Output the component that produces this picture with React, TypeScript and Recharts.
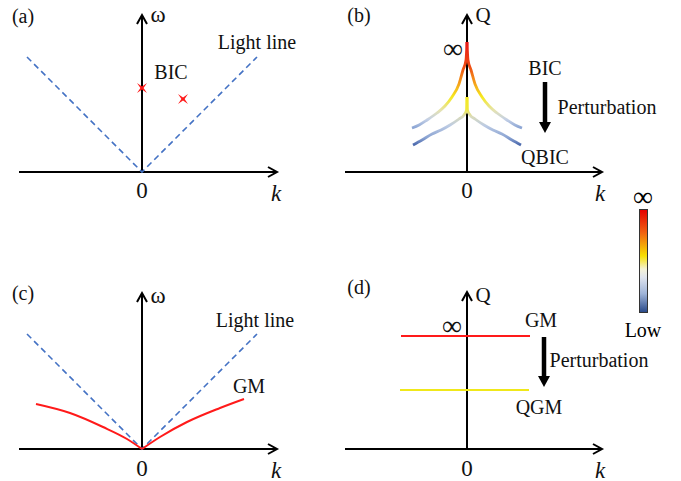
import { ComposedChart, Line, XAxis, YAxis, ReferenceLine, ReferenceDot } from "recharts";

// light line (a), (c)
const lightK = [-1.15, 0, 1.15];
const lightW = [1.15, 0, 1.15];
// BIC points (a)
const bicK = [0, 0.41];
const bicW = [0.84, 0.73];
// Q(k) of the BIC band (b), right half; mirrored for the left half
const bicBandK = [0, 0.01, 0.04, 0.08, 0.15, 0.22, 0.3, 0.4, 0.48, 0.55];
const bicBandQ = [1.3, 1.12, 1.02, 0.88, 0.75, 0.66, 0.59, 0.52, 0.47, 0.44];
// Q(k) of the QBIC band (b)
const qbicBandK = [0, 0.005, 0.03, 0.08, 0.17, 0.26, 0.35, 0.45, 0.54];
const qbicBandQ = [0.75, 0.62, 0.57, 0.53, 0.47, 0.42, 0.38, 0.32, 0.27];
// guided mode dispersion (c), left and right branches
const gmLeftK = [-1.06, -0.72, -0.39, -0.15, 0];
const gmLeftW = [0.45, 0.36, 0.22, 0.1, 0];
const gmRightK = [0, 0.18, 0.45, 0.78, 1.02];
const gmRightW = [0, 0.12, 0.27, 0.41, 0.5];
// flat Q lines (d)
const gmQK = [-0.66, 0.63];
const gmQ = [1.13, 1.13];
const qgmQK = [-0.67, 0.62];
const qgmQ = [0.59, 0.59];

const zip = (ks: number[], ws: number[]) => ks.map((k, i) => ({ k, w: ws[i] }));
const mirror = (ks: number[], ws: number[]) => zip(ks.map((k) => -k), ws).reverse();

const FONT = '"Liberation Serif", "Times New Roman", serif';

const AxisArrow = (p: any) => {
  const { x1, y1, x2, y2 } = p;
  const a = Math.atan2(y2 - y1, x2 - x1);
  const L = 9;
  const W = 5;
  const bx = x2 - L * Math.cos(a);
  const by = y2 - L * Math.sin(a);
  const px = -Math.sin(a) * W;
  const py = Math.cos(a) * W;
  return (
    <g>
      <line x1={x1} y1={y1} x2={x2} y2={y2} stroke="#000" strokeWidth={2} />
      <polyline
        points={`${bx + px},${by + py} ${x2},${y2} ${bx - px},${by - py}`}
        fill="none"
        stroke="#000"
        strokeWidth={2}
      />
    </g>
  );
};

const BlockArrow = (p: any) => {
  const { x1, y1, x2, y2 } = p;
  const head = 11;
  return (
    <g>
      <line x1={x1} y1={y1} x2={x2} y2={y2 - head} stroke="#000" strokeWidth={4.5} />
      <polygon points={`${x2 - 6},${y2 - head} ${x2 + 6},${y2 - head} ${x2},${y2}`} fill="#000" />
    </g>
  );
};

const Star = (p: any) => {
  const { cx, cy, key } = p;
  const s = 5;
  const i = 1.6;
  return (
    <path
      key={key}
      d={`M${cx - s},${cy - s} L${cx},${cy - i} L${cx + s},${cy - s} L${cx + i},${cy} L${cx + s},${cy + s} L${cx},${cy + i} L${cx - s},${cy + s} L${cx - i},${cy} Z`}
      fill="#ff1a1a"
    />
  );
};

function label(key: string, text: string, k: number, w: number, size = 20, italic = false) {
  return (
    <ReferenceDot
      key={key}
      x={k}
      y={w}
      r={1}
      ifOverflow="visible"
      shape={(p: any) => (
        <text
          x={p.cx}
          y={p.cy}
          textAnchor="middle"
          dominantBaseline="central"
          fontFamily={FONT}
          fontSize={size}
          fontStyle={italic ? "italic" : "normal"}
          fill="#111"
        >
          {text}
        </text>
      )}
    />
  );
}

function axes(xMin: number, xMax: number, yMax: number) {
  return [
    <ReferenceLine key="ax" segment={[{ x: xMin, y: 0 }, { x: xMax, y: 0 }]} shape={AxisArrow} ifOverflow="visible" />,
    <ReferenceLine key="ay" segment={[{ x: 0, y: 0 }, { x: 0, y: yMax }]} shape={AxisArrow} ifOverflow="visible" />,
  ];
}

function Panel({ left, top, width, height, xd, yd, children }: any) {
  return (
    <div style={{ position: "absolute", left, top }}>
      <ComposedChart width={width} height={height} margin={{ top: 0, right: 0, bottom: 0, left: 0 }}>
        <XAxis type="number" dataKey="k" domain={xd} allowDataOverflow hide />
        <YAxis type="number" dataKey="w" domain={yd} allowDataOverflow hide width={0} />
        {children}
      </ComposedChart>
    </div>
  );
}

const dashed = {
  stroke: "#4472c4",
  strokeWidth: 1.6,
  strokeDasharray: "6 4",
  dot: false,
  activeDot: false,
  isAnimationActive: false,
  type: "linear" as const,
};

const solid = (color: string) => ({
  stroke: color,
  strokeWidth: 2,
  dot: false,
  activeDot: false,
  isAnimationActive: false,
});

export default function App() {
  const bandLines = (ks: number[], qs: number[], grad: string, name: string) => [
    <Line key={name + "L"} data={mirror(ks, qs)} dataKey="w" type="monotone" stroke={`url(#${grad})`} strokeWidth={2.8} dot={false} activeDot={false} isAnimationActive={false} />,
    <Line key={name + "R"} data={zip(ks, qs)} dataKey="w" type="monotone" stroke={`url(#${grad})`} strokeWidth={2.8} dot={false} activeDot={false} isAnimationActive={false} />,
  ];

  return (
    <div style={{ position: "absolute", left: 0, top: 0, width: 681, height: 481, background: "#fff", fontFamily: FONT }}>
      {/* (a) */}
      <Panel left={0} top={0} width={340} height={240} xd={[-1.42, 1.98]} yd={[-0.68, 1.72]}>
        {axes(-1.23, 1.35, 1.57)}
        <Line data={zip(lightK, lightW)} dataKey="w" {...dashed} />
        <Line data={zip(bicK, bicW)} dataKey="w" stroke="none" dot={Star} activeDot={false} isAnimationActive={false} />
        {label("a", "(a)", -1.19, 1.56)}
        {label("om", "ω", 0.16, 1.58, 23)}
        {label("ll", "Light line", 1.15, 1.3)}
        {label("bic", "BIC", 0.29, 1.0)}
        {label("0", "0", 0, -0.18, 23)}
        {label("k", "k", 1.34, -0.21, 23, true)}
      </Panel>

      {/* (b) */}
      <Panel left={340} top={0} width={341} height={240} xd={[-1.27, 2.14]} yd={[-0.68, 1.72]}>
        <defs>
          <linearGradient id="gBic" x1="0" y1="0" x2="0" y2="1">
            <stop offset="0" stopColor="#e81818" />
            <stop offset="0.28" stopColor="#ee4a14" />
            <stop offset="0.48" stopColor="#f5a01a" />
            <stop offset="0.64" stopColor="#f6ea1e" />
            <stop offset="0.8" stopColor="#e4e2b4" />
            <stop offset="0.9" stopColor="#c4d0e6" />
            <stop offset="1" stopColor="#8aa4d4" />
          </linearGradient>
          <linearGradient id="gQbic" x1="0" y1="0" x2="0" y2="1">
            <stop offset="0" stopColor="#f4e820" />
            <stop offset="0.25" stopColor="#f0e83a" />
            <stop offset="0.4" stopColor="#dcdcb8" />
            <stop offset="0.6" stopColor="#bccbe4" />
            <stop offset="0.85" stopColor="#89a2d2" />
            <stop offset="1" stopColor="#4a68ac" />
          </linearGradient>
        </defs>
        {axes(-1.22, 1.35, 1.57)}
        {bandLines(bicBandK, bicBandQ, "gBic", "bic")}
        {bandLines(qbicBandK, qbicBandQ, "gQbic", "qbic")}
        <ReferenceLine segment={[{ x: 0.78, y: 0.9 }, { x: 0.78, y: 0.39 }]} shape={BlockArrow} ifOverflow="visible" />
        {label("b", "(b)", -1.08, 1.57)}
        {label("q", "Q", 0.16, 1.57, 21)}
        {label("inf", "∞", -0.14, 1.24, 28)}
        {label("bic", "BIC", 0.78, 1.04)}
        {label("pert", "Perturbation", 1.4, 0.65)}
        {label("qbic", "QBIC", 0.78, 0.15)}
        {label("0", "0", 0, -0.18, 23)}
        {label("k", "k", 1.33, -0.21, 23, true)}
      </Panel>

      {/* (c) */}
      <Panel left={0} top={240} width={340} height={241} xd={[-1.42, 1.98]} yd={[-0.32, 2.09]}>
        {axes(-1.23, 1.35, 1.56)}
        <Line data={zip(lightK, lightW)} dataKey="w" {...dashed} />
        <Line data={zip(gmLeftK, gmLeftW)} dataKey="w" type="monotone" {...solid("#ff1a1a")} />
        <Line data={zip(gmRightK, gmRightW)} dataKey="w" type="monotone" {...solid("#ff1a1a")} />
        {label("c", "(c)", -1.19, 1.56)}
        {label("om", "ω", 0.16, 1.54, 23)}
        {label("ll", "Light line", 1.13, 1.29)}
        {label("gm", "GM", 1.07, 0.63)}
        {label("0", "0", 0, -0.19, 23)}
        {label("k", "k", 1.34, -0.21, 23, true)}
      </Panel>

      {/* (d) */}
      <Panel left={340} top={240} width={341} height={241} xd={[-1.27, 2.14]} yd={[-0.32, 2.09]}>
        {axes(-1.22, 1.35, 1.57)}
        <Line data={zip(gmQK, gmQ)} dataKey="w" type="linear" {...solid("#ff1a1a")} />
        <Line data={zip(qgmQK, qgmQ)} dataKey="w" type="linear" {...solid("#f0e81a")} />
        <ReferenceLine segment={[{ x: 0.77, y: 1.12 }, { x: 0.77, y: 0.62 }]} shape={BlockArrow} ifOverflow="visible" />
        {label("d", "(d)", -1.08, 1.62)}
        {label("q", "Q", 0.16, 1.54, 21)}
        {label("inf", "∞", -0.15, 1.24, 28)}
        {label("gm", "GM", 0.74, 1.29)}
        {label("pert", "Perturbation", 1.32, 0.89)}
        {label("qgm", "QGM", 0.72, 0.42)}
        {label("0", "0", 0, -0.19, 23)}
        {label("k", "k", 1.33, -0.21, 23, true)}
      </Panel>

      {/* colour scale */}
      <div
        style={{
          position: "absolute",
          left: 639,
          top: 209,
          width: 7,
          height: 102,
          border: "1px solid #333",
          background:
            "linear-gradient(to bottom, #e60000 0%, #f06010 22%, #f8e000 45%, #f4f2d8 58%, #dfe4ee 66%, #9fb4d8 82%, #2a4a8a 100%)",
        }}
      />
      <div style={{ position: "absolute", left: 613, top: 180, width: 60, textAlign: "center", fontSize: 28, lineHeight: "34px" }}>∞</div>
      <div style={{ position: "absolute", left: 613, top: 318, width: 60, textAlign: "center", fontSize: 20, lineHeight: "24px" }}>Low</div>
    </div>
  );
}
